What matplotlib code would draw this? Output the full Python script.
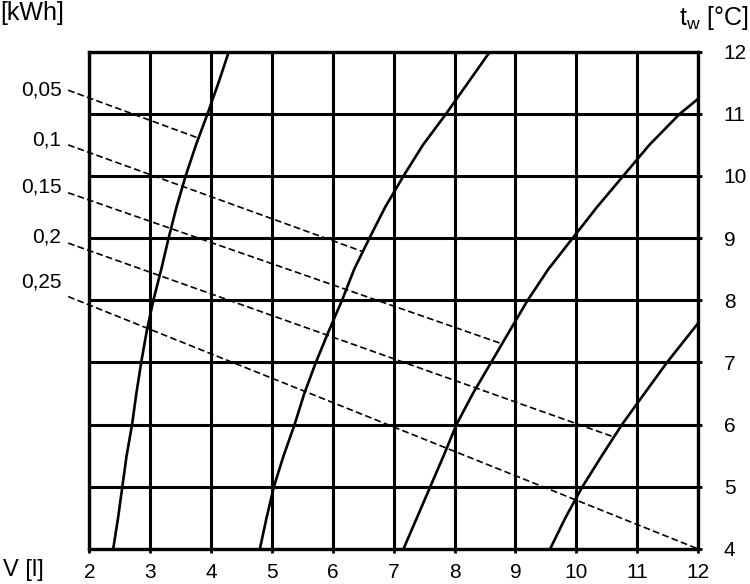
import matplotlib
matplotlib.use("Agg")
import matplotlib.pyplot as plt

plt.rcParams['font.family'] = ['Liberation Sans', 'DejaVu Sans']
plt.rcParams['mathtext.fontset'] = 'custom'
plt.rcParams['mathtext.rm'] = 'Liberation Sans'

# solid curves: volume V [l] read at t_w [°C]
curve_a_t = [4, 4.5, 5, 5.5, 6, 6.5, 7, 7.5, 8, 8.5, 9, 9.5, 10, 10.5, 11, 11.5, 12]
curve_a_v = [2.39, 2.47, 2.54, 2.61, 2.70, 2.77, 2.85, 2.94, 3.05, 3.18, 3.30,
             3.43, 3.58, 3.75, 3.94, 4.12, 4.29]
curve_b_t = [4, 4.5, 5, 5.5, 6, 6.5, 7, 7.5, 8, 8.5, 9, 9.5, 10, 10.5, 11, 11.5, 12]
curve_b_v = [4.80, 4.91, 5.03, 5.19, 5.37, 5.53, 5.72, 5.93, 6.15, 6.35, 6.60,
             6.86, 7.16, 7.48, 7.86, 8.22, 8.58]
curve_c_t = [4, 4.5, 5, 5.5, 6, 6.5, 7, 7.5, 8, 8.5, 9, 9.5, 10, 10.5, 11, 11.24]
curve_c_v = [7.16, 7.38, 7.60, 7.82, 8.03, 8.30, 8.60, 8.90, 9.20, 9.54, 9.94,
             10.34, 10.77, 11.20, 11.70, 12.0]
curve_d_t = [4, 4.5, 5, 5.5, 6, 6.34, 7, 7.63]
curve_d_v = [9.57, 9.82, 10.10, 10.42, 10.75, 11.0, 11.49, 12.0]

# dashed energy lines [kWh]: start and end points
energy_labels = ["0,05", "0,1", "0,15", "0,2", "0,25"]
line_v0 = [1.65, 1.65, 1.65, 1.65, 1.65]
line_t0 = [11.38, 10.50, 9.73, 8.92, 8.06]
line_v1 = [3.79, 6.50, 8.75, 10.62, 12.0]
line_t1 = [10.61, 8.78, 7.31, 5.80, 4.0]
label_t = [11.38, 10.58, 9.82, 9.02, 8.29]

x_ticks = [2, 3, 4, 5, 6, 7, 8, 9, 10, 11, 12]
y_ticks = [4, 5, 6, 7, 8, 9, 10, 11, 12]

fig = plt.figure(figsize=(7.5, 5.84), dpi=100)
ax = fig.add_axes([0.1193, 0.0601, 0.8114, 0.8514])

ax.set_xlim(2, 12)
ax.set_ylim(4, 12)
ax.set_xticks(x_ticks)
ax.set_yticks(y_ticks)
ax.yaxis.tick_right()
ax.grid(True, color="black", linewidth=2.2)
ax.set_axisbelow(True)
for sp in ax.spines.values():
    sp.set_linewidth(2.4)
    sp.set_color("black")
ax.tick_params(axis="both", length=3, width=2, color="black", labelsize=15)
ax.tick_params(axis="x", pad=7.5)
ax.tick_params(axis="y", pad=15.5)

for v, t in [(curve_a_v, curve_a_t), (curve_b_v, curve_b_t),
             (curve_c_v, curve_c_t), (curve_d_v, curve_d_t)]:
    ax.plot(v, t, color="black", linewidth=1.9, solid_joinstyle="round")

for i in range(len(energy_labels)):
    ax.plot([line_v0[i], line_v1[i]], [line_t0[i], line_t1[i]],
            color="black", linewidth=1.2, dashes=(4, 2), clip_on=False)
    ax.text(1.54, label_t[i], energy_labels[i], ha="right", va="center",
            fontsize=15, clip_on=False)

fig.text(0.0, 0.978, "[kWh]", fontsize=18, ha="left", va="center")
fig.text(0.905, 0.970, r"t$_\mathrm{w}$ [°C]", fontsize=18, ha="left", va="center")
fig.text(0.004, 0.024, "V [l]", fontsize=17, ha="left", va="center")

fig.savefig("out.png", dpi=100)
